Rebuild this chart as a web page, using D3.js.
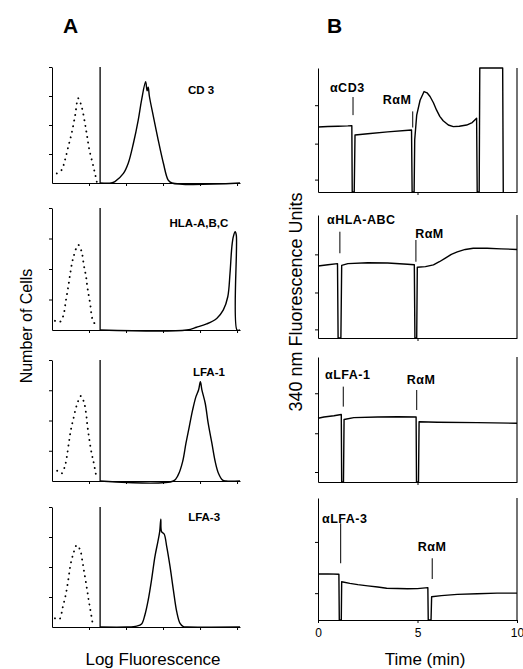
<!DOCTYPE html>
<html lang="en">
<head>
<meta charset="UTF-8">
<title>Flow cytometry and calcium traces</title>
<script src="https://cdn.jsdelivr.net/npm/d3@7"></script>
<style>
  html, body { margin: 0; background: #fff; }
  svg { display: block; font-family: "Liberation Sans", Arial, sans-serif; }
</style>
</head>
<body>
<div id="fig"></div>
<script>
// ---------- data: panel A (histograms, x in log decades, y in cells) ----------
var histNames = ["CD 3", "HLA-A,B,C", "LFA-1", "LFA-3"];
var gateDecade = 1.3;
var decadeTicks = [1, 2, 3, 4, 5];
var countTicks = [100, 200, 300, 400];

var controlCD3 = [[0.13,33],[0.26,45],[0.35,79],[0.44,125],[0.53,171],[0.62,229],[0.71,292],[0.80,263],[0.89,206],[0.95,160],[1.01,114],[1.12,56],[1.21,4]];
var stainCD3 = [[1.3,0],[1.6,0],[1.70,5],[1.93,33],[2.06,68],[2.20,137],[2.33,217],[2.42,286],[2.53,349],[2.57,318],[2.60,330],[2.63,300],[2.74,229],[2.87,148],[3.01,68],[3.14,10],[3.24,0],[5.08,0]];

var controlHLA = [[0.08,30],[0.22,27],[0.31,49],[0.37,93],[0.44,142],[0.50,191],[0.58,240],[0.71,279],[0.80,257],[0.86,213],[0.92,175],[0.96,137],[1.03,87],[1.10,33],[1.21,11]];
var stainHLA = [[1.3,0],[3.64,0],[3.91,9],[4.18,20],[4.45,38],[4.63,66],[4.75,109],[4.81,186],[4.86,273],[4.90,306],[4.95,322],[4.98,311],[5.0,0],[5.08,0]];

var controlLFA1 = [[0.14,34],[0.26,25],[0.35,50],[0.40,80],[0.46,130],[0.51,169],[0.58,207],[0.67,251],[0.78,281],[0.86,262],[0.92,224],[0.96,180],[1.01,136],[1.07,92],[1.12,64],[1.19,20]];
var stainLFA1 = [[1.3,0],[3.28,0],[3.41,20],[3.53,64],[3.62,125],[3.71,180],[3.80,235],[3.89,279],[3.96,301],[4.01,328],[4.05,301],[4.14,257],[4.22,191],[4.32,125],[4.41,64],[4.50,25],[4.61,3],[4.7,0],[5.08,0]];

var controlLFA3 = [[0.08,29],[0.20,26],[0.29,66],[0.37,107],[0.44,157],[0.50,207],[0.58,246],[0.67,273],[0.76,257],[0.83,212],[0.89,168],[0.95,123],[0.99,90],[1.03,62],[1.09,18]];
var stainLFA3 = [[1.3,0],[2.02,0],[2.29,3],[2.42,10],[2.51,40],[2.60,90],[2.69,157],[2.78,234],[2.86,284],[2.91,318],[2.94,359],[2.96,318],[3.03,310],[3.10,268],[3.19,201],[3.28,123],[3.37,51],[3.46,12],[3.55,1],[3.65,0],[5.08,0]];

// ---------- data: panel B (fluorescence traces, x in min, y in relative units) ----------
var traceNames = ["CD3", "HLA-ABC", "LFA-1", "LFA-3"];
var timeTicks = [0, 5, 10];

var traceCD3 = [[0,52.4],[0.5,52.8],[1.0,53],[1.5,53.3],[1.70,53.5],[1.72,0],[1.82,0],[1.86,46],[2.5,47],[3.5,48.5],[4.7,50],[4.73,0],[4.83,0],[4.86,42],[4.96,62],[5.13,74],[5.33,81],[5.48,80],[5.63,77],[5.8,72],[5.96,66],[6.12,61],[6.29,57.5],[6.55,54],[6.8,52.7],[7.1,53],[7.47,54],[7.75,56],[7.97,59.5],[8.0,0],[8.1,0],[8.13,100],[9.28,100],[9.31,0]];
var traceHLA = [[0,58.5],[0.5,59.5],[0.98,60.5],[1.01,0],[1.15,0],[1.19,59],[1.5,60.5],[2.5,61.2],[3.5,61],[4.5,60],[4.84,59.5],[4.87,0],[4.96,0],[4.99,57.5],[5.4,58],[5.8,59.5],[6.1,62],[6.4,65],[6.7,68],[7.0,70],[7.4,72],[7.8,73],[8.5,73],[9.2,72.5],[10,72]];
var traceLFA1 = [[0,51],[0.3,52],[0.8,53],[1.17,54],[1.19,0],[1.28,0],[1.31,50],[1.8,51.5],[3,52],[4.0,52.2],[4.93,52],[4.95,0],[5.05,0],[5.08,48.2],[6,47.8],[8,47.5],[10,47]];
var traceLFA3 = [[0,37.7],[0.5,37.8],[1.05,37.5],[1.07,0],[1.17,0],[1.19,31.4],[1.6,30],[2,29],[2.5,28],[3,27],[3.45,26],[4,25.8],[4.5,25.6],[5,25.7],[5.52,26.5],[5.54,0],[5.68,0],[5.71,19.1],[6.2,20],[7,21],[8,21.5],[9,22],[10,22]];

var agentLabels = ["\u03b1CD3", "\u03b1HLA-ABC", "\u03b1LFA-1", "\u03b1LFA-3"];
var agentTimes = [1.76, 1.1, 1.27, 1.14];
var ramLabel = "R\u03b1M";
var ramTimes = [4.76, 4.92, 4.96, 5.74];

var yTicksB = [[10, 39, 70], [7, 37, 68], [8, 39, 71], [22, 64]];

// ---------- layout ----------
var W = 523, H = 669;
var svg = d3.select("#fig").append("svg").attr("width", W).attr("height", H);

var histTop = [67, 208, 360, 507];
var histBottom = [183, 330, 481, 627];
var histLabelPos = [[4.03, 321], [3.97, 351], [4.24, 360], [4.11, 367]];

var traceTop = [68, 215, 357, 498];
var traceBottom = [192, 338, 482, 620];
// value range of each marker line, and label centres (time, value)
var agentMarkSpan = [[62, 76.6], [68.9, 86.4], [60.3, 76.3], [46.5, 79.3]];
var ramMarkSpan = [[52, 65], [62, 79.7], [57.6, 73.6], [33.6, 50.6]];
var agentLabelAt = [[0.6, 83.9], [0.45, 95.9], [0.35, 85.6], [0.2, 83.4]];
var ramLabelAt = [[3.97, 74.2], [5.6, 85.1], [5.18, 81.6], [5.73, 60.1]];

var controls = [controlCD3, controlHLA, controlLFA1, controlLFA3];
var stains = [stainCD3, stainHLA, stainLFA1, stainLFA3];
var traces = [traceCD3, traceHLA, traceLFA1, traceLFA3];

var xA = d3.scaleLinear().domain([0, 5.08]).range([52, 240]);
var xB = d3.scaleLinear().domain([0, 10]).range([318, 517]);

// panel letters
svg.append("text").attr("x", 63).attr("y", 33).attr("font-size", 21).attr("font-weight", "bold").text("A");
svg.append("text").attr("x", 327).attr("y", 33).attr("font-size", 21).attr("font-weight", "bold").text("B");

// ---------- panel A ----------
histNames.forEach(function(name, i) {
    var y = d3.scaleLinear().domain([0, 400]).range([histBottom[i], histTop[i]]);
    var g = svg.append("g");

    g.append("g")
        .attr("transform", "translate(" + xA(0) + ",0)")
        .call(d3.axisLeft(y).tickValues(countTicks).tickSize(3).tickSizeOuter(0).tickFormat(""));
    g.append("g")
        .attr("transform", "translate(0," + y(0) + ")")
        .call(d3.axisBottom(xA).tickValues(decadeTicks).tickSize(3).tickSizeOuter(0).tickFormat(""));

    g.append("line")
        .attr("x1", xA(gateDecade)).attr("x2", xA(gateDecade))
        .attr("y1", y(0)).attr("y2", y(400))
        .attr("stroke", "#000").attr("stroke-width", 1.3);

    var line = d3.line()
        .x(function(d) { return xA(d[0]); })
        .y(function(d) { return y(d[1]); })
        .curve(d3.curveCatmullRom.alpha(0.5));

    g.append("path").datum(controls[i])
        .attr("d", line).attr("fill", "none").attr("stroke", "#000")
        .attr("stroke-width", 1.9).attr("stroke-linecap", "round")
        .attr("stroke-dasharray", "0.1 5.6");

    g.append("path").datum(stains[i])
        .attr("d", line).attr("fill", "none").attr("stroke", "#000")
        .attr("stroke-width", 1.4);

    g.append("text")
        .attr("x", xA(histLabelPos[i][0])).attr("y", y(histLabelPos[i][1]))
        .attr("dy", "0.35em").attr("text-anchor", "middle")
        .attr("font-size", 11.5).attr("font-weight", "bold")
        .text(name);
});

// ---------- panel B ----------
traceNames.forEach(function(name, i) {
    var y = d3.scaleLinear().domain([0, 100]).range([traceBottom[i], traceTop[i]]);
    var g = svg.append("g");

    g.append("g")
        .attr("transform", "translate(" + xB(0) + ",0)")
        .call(d3.axisLeft(y).tickValues(yTicksB[i]).tickSize(3).tickSizeOuter(0).tickFormat(""));

    var last = i === traceNames.length - 1;
    var bx = g.append("g")
        .attr("transform", "translate(0," + y(0) + ")")
        .call(d3.axisBottom(xB).tickValues(last ? timeTicks : [5]).tickSize(3).tickSizeOuter(0)
            .tickPadding(5.5).tickFormat(last ? d3.format("d") : ""));
    bx.selectAll("text").attr("font-size", 12).attr("font-family", null);

    g.append("line")
        .attr("x1", xB(10)).attr("x2", xB(10))
        .attr("y1", y(0)).attr("y2", y(100))
        .attr("stroke", "#000").attr("stroke-width", 1.1);

    var line = d3.line()
        .x(function(d) { return xB(d[0]); })
        .y(function(d) { return y(d[1]); });

    g.append("path").datum(traces[i])
        .attr("d", line).attr("fill", "none").attr("stroke", "#000")
        .attr("stroke-width", 1.4).attr("stroke-linejoin", "round");

    // addition markers
    [[agentTimes[i], agentMarkSpan[i]], [ramTimes[i], ramMarkSpan[i]]].forEach(function(m) {
        g.append("line")
            .attr("x1", xB(m[0])).attr("x2", xB(m[0]))
            .attr("y1", y(m[1][0])).attr("y2", y(m[1][1]))
            .attr("stroke", "#000").attr("stroke-width", 1);
    });

    g.append("text")
        .attr("x", xB(agentLabelAt[i][0])).attr("y", y(agentLabelAt[i][1]))
        .attr("dy", "0.35em").attr("font-size", 12.5).attr("font-weight", "bold")
        .attr("letter-spacing", 0.5)
        .text(agentLabels[i]);
    g.append("text")
        .attr("x", xB(ramLabelAt[i][0])).attr("y", y(ramLabelAt[i][1]))
        .attr("dy", "0.35em").attr("text-anchor", "middle")
        .attr("font-size", 12.5).attr("font-weight", "bold").attr("letter-spacing", 0.5)
        .text(ramLabel);
});

// ---------- axis titles ----------
svg.append("text")
    .attr("transform", "translate(32,326) rotate(-90)")
    .attr("text-anchor", "middle").attr("font-size", 16)
    .text("Number of Cells");
svg.append("text")
    .attr("transform", "translate(302,302) rotate(-90)")
    .attr("text-anchor", "middle").attr("font-size", 18)
    .text("340 nm Fluorescence Units");
svg.append("text")
    .attr("x", 153).attr("y", 665).attr("text-anchor", "middle").attr("font-size", 17)
    .text("Log Fluorescence");
svg.append("text")
    .attr("x", 425).attr("y", 665).attr("text-anchor", "middle").attr("font-size", 17)
    .text("Time (min)");
</script>
</body>
</html>
